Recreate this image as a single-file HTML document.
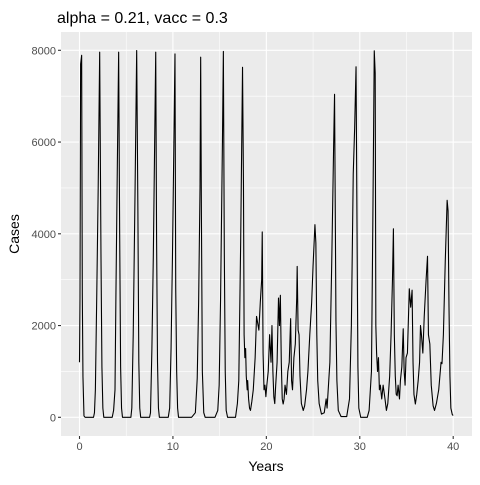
<!DOCTYPE html>
<html><head><meta charset="utf-8">
<style>
html,body{margin:0;padding:0;background:#fff;}
svg text{font-family:"Liberation Sans",Arial,sans-serif;}
</style></head>
<body>
<svg id="chart" width="480" height="480" xmlns="http://www.w3.org/2000/svg">
<rect x="0" y="0" width="480" height="480" fill="#fff"/>
<text x="57" y="23" font-size="16" fill="#000">alpha = 0.21, vacc = 0.3</text>
<rect x="61" y="32" width="411" height="404" fill="#EBEBEB"/>
<g id="grid"></g>
<g id="ticks"></g>
<path id="line" fill="none" stroke="#000" stroke-width="1.1" stroke-linejoin="round"/>
<text x="266" y="471" font-size="14" text-anchor="middle" fill="#000">Years</text>
<text x="0" y="0" font-size="14" text-anchor="middle" fill="#000" transform="translate(19,234) rotate(-90)">Cases</text>
</svg>
<script>
const xTicks=[0,10,20,30,40];
const xMinor=[5,15,25,35];
const yTicks=[0,2000,4000,6000,8000];
const yMinor=[1000,3000,5000,7000];
const years=[0,0.05,0.12,0.23,0.3,0.37,0.48,0.6,1.5,1.6,1.7,1.85,2.0,2.16,2.3,2.4,2.5,2.6,3.5,3.65,3.8,3.9,4.05,4.19,4.3,4.4,4.5,4.6,5.5,5.6,5.75,5.95,6.12,6.25,6.35,6.45,6.55,7.5,7.6,7.75,7.9,8.16,8.25,8.35,8.45,8.55,9.5,9.65,9.8,9.95,10.22,10.3,10.4,10.5,10.6,11.0,12.0,12.4,12.55,12.6,12.75,12.9,12.97,13.05,13.15,13.3,13.45,14.5,14.8,14.95,15.1,15.3,15.4,15.5,15.6,15.7,15.85,16.7,16.9,17.05,17.25,17.45,17.55,17.62,17.7,17.78,17.85,17.95,18.0,18.1,18.2,18.3,18.45,18.6,18.8,18.95,19.2,19.35,19.5,19.56,19.65,19.75,19.85,19.95,20.05,20.2,20.35,20.5,20.6,20.7,20.8,20.9,21.0,21.15,21.3,21.4,21.5,21.6,21.7,21.8,21.9,22.0,22.15,22.3,22.45,22.6,22.7,22.8,22.95,23.1,23.25,23.3,23.4,23.5,23.6,23.75,23.95,24.1,24.3,24.45,24.65,24.85,25.0,25.2,25.3,25.4,25.5,25.65,25.9,26.2,26.4,26.5,26.8,27.0,27.2,27.3,27.45,27.55,27.7,28.0,28.6,28.9,29.1,29.3,29.45,29.6,29.7,29.8,29.9,30.1,30.8,31.0,31.25,31.4,31.55,31.65,31.72,31.8,31.9,32.0,32.1,32.2,32.35,32.5,32.7,32.85,33.0,33.2,33.35,33.5,33.6,33.7,33.8,33.9,34.0,34.1,34.25,34.35,34.5,34.65,34.75,34.85,34.95,35.1,35.3,35.45,35.6,35.7,35.8,35.95,36.1,36.25,36.4,36.5,36.6,36.75,36.9,37.1,37.25,37.35,37.5,37.65,37.85,38.0,38.2,38.45,38.7,38.8,38.95,39.15,39.35,39.45,39.55,39.65,39.75,39.9,40.0];
const cases=[1200,2600,7700,7890,2700,880,30,0,0,100,600,2700,5000,7960,3500,1100,200,0,0,150,600,2700,5500,7960,4000,1100,200,0,0,200,1800,5000,7995,4500,1200,200,0,0,100,1500,3500,7960,3900,1200,200,0,0,200,1500,3500,7920,2800,1000,200,0,0,0,100,650,850,2500,5000,7850,4400,1000,100,0,0,150,700,2600,6000,7975,3600,1000,150,0,0,300,800,3800,7630,5100,1800,1300,1500,900,600,800,400,200,150,350,600,1300,2200,1900,2500,3000,4040,1400,600,700,450,700,1000,1800,1200,2000,1000,450,300,700,1200,2600,2000,2660,1200,400,290,400,700,500,1000,1200,2150,800,600,1300,1600,2600,3290,1900,1800,900,300,150,250,600,1000,1800,2500,3300,4200,3800,1800,800,300,70,100,400,200,1200,3400,5900,7040,2100,800,150,15,15,400,2000,5300,6300,7640,4300,1100,200,0,0,150,1000,4300,7990,7500,2000,1400,1000,1300,600,700,400,700,400,150,300,900,1800,3000,4110,1800,900,500,470,700,400,800,1100,1930,1000,700,1300,1400,2800,2400,2770,1200,500,290,500,800,1200,2000,1800,1400,2200,3000,3510,1800,1600,700,250,150,300,600,1200,1170,1800,3400,4730,4500,2400,900,200,60,40];

const X0=61,X1=472,Y0=32,Y1=436;
function xs(t){return 79.5+t*(453.2-79.5)/40;}
function ys(v){return 417.3-v*(417.3-50.3)/8000;}
const NS="http://www.w3.org/2000/svg";
const grid=document.getElementById('grid'), ticks=document.getElementById('ticks');
function mk(tag,attrs,parent){const e=document.createElementNS(NS,tag);for(const k in attrs)e.setAttribute(k,attrs[k]);parent.appendChild(e);return e;}
yMinor.forEach(v=>{const l=mk('line',{x1:X0,x2:X1,y1:ys(v),y2:ys(v),stroke:'#fff','stroke-width':0.55},grid);

});
xMinor.forEach(v=>{const l=mk('line',{x1:xs(v),x2:xs(v),y1:Y0,y2:Y1,stroke:'#fff','stroke-width':0.55},grid);

});
yTicks.forEach(v=>{const l=mk('line',{x1:X0,x2:X1,y1:ys(v),y2:ys(v),stroke:'#fff','stroke-width':1.1},grid);


const tk=mk('line',{x1:X0-3,x2:X0,y1:ys(v),y2:ys(v),stroke:'#333','stroke-width':1.1},ticks);


const t=mk('text',{x:X0-5,y:ys(v)+4,'font-size':11,'text-anchor':'end',fill:'#4D4D4D'},ticks);t.textContent=v;

});
xTicks.forEach(v=>{const l=mk('line',{x1:xs(v),x2:xs(v),y1:Y0,y2:Y1,stroke:'#fff','stroke-width':1.1},grid);


const tk=mk('line',{x1:xs(v),x2:xs(v),y1:Y1,y2:Y1+3,stroke:'#333','stroke-width':1.1},ticks);


const t=mk('text',{x:xs(v),y:Y1+14,'font-size':11,'text-anchor':'middle',fill:'#4D4D4D'},ticks);t.textContent=v;

});
let d='';
for(let i=0;i<years.length;i++){d+=(i?'L':'M')+xs(years[i]).toFixed(2)+','+ys(cases[i]).toFixed(2);}
document.getElementById('line').setAttribute('d',d);
</script>
</body></html>
